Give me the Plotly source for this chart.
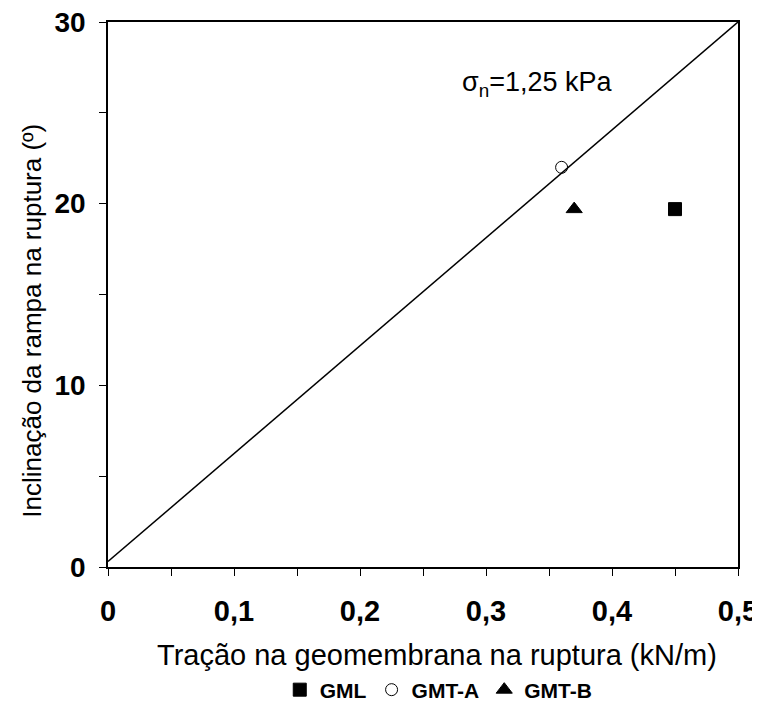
import plotly.graph_objects as go

# Data
series_names = ["GML", "GMT-A", "GMT-B"]
tracao = [0.45, 0.36, 0.37]          # kN/m
inclinacao = [19.7, 22.0, 19.7]      # degrees
line_x = [0.0, 0.5]
line_y = [0.3, 30.0]

x_tickvals = [0, 0.1, 0.2, 0.3, 0.4, 0.5]
x_ticktext = ["0", "0,1", "0,2", "0,3", "0,4", "0,5"]
y_tickvals = [0, 10, 20, 30]
y_ticktext = ["0", "10", "20", "30"]

x_title = "Tração na geomembrana na ruptura (kN/m)"
y_title = "Inclinação da rampa na ruptura (º)"

symbols = ["square", "circle-open", "triangle-up"]
sizes = [13, 12, 14]

FONT = "Liberation Sans, Arial, sans-serif"

fig = go.Figure()

fig.add_trace(go.Scatter(x=line_x, y=line_y, mode="lines",
                         line=dict(color="black", width=1.5),
                         showlegend=False, hoverinfo="skip"))

for name, xv, yv, sym, sz in zip(series_names, tracao, inclinacao, symbols, sizes):
    fig.add_trace(go.Scatter(
        x=[xv], y=[yv], mode="markers", name=name,
        marker=dict(symbol=sym, size=sz, color="black",
                    line=dict(color="black", width=1)),
    ))

fig.add_annotation(x=0.279, y=26.6, xref="x", yref="y",
                   text="σ<sub>n</sub>=1,25 kPa", showarrow=False,
                   xanchor="left", yanchor="middle",
                   font=dict(family=FONT, size=27, color="black"))

# axis titles as annotations for exact placement
fig.add_annotation(x=0.522, y=-0.1615, xref="paper", yref="paper",
                   text=x_title, showarrow=False,
                   xanchor="center", yanchor="middle",
                   font=dict(family=FONT, size=29, color="black"))
fig.add_annotation(x=-0.1206, y=0.452, xref="paper", yref="paper",
                   text=y_title, showarrow=False, textangle=-90,
                   xanchor="center", yanchor="middle",
                   font=dict(family=FONT, size=26, color="black"))

# page body has an 8px margin, so the figure is 8px smaller
fig.update_layout(
    width=752, height=710,
    margin=dict(l=100, r=22, t=14, b=151, autoexpand=False),
    paper_bgcolor="white", plot_bgcolor="white",
    font=dict(family=FONT, color="black"),
    legend=dict(orientation="h", x=0.525, xanchor="center", xref="paper",
                y=-0.2257, yanchor="middle",
                font=dict(family=FONT, size=21, color="black", weight="bold"),
                tracegroupgap=0),
    showlegend=True,
)

fig.update_xaxes(range=[0, 0.5], tickvals=x_tickvals, ticktext=x_ticktext,
                 ticks="outside", ticklen=7, tickcolor="black", tickwidth=1,
                 minor=dict(dtick=0.05, tick0=0, ticks="outside", ticklen=7,
                            tickcolor="black", tickwidth=1, showgrid=False),
                 showline=True, linecolor="black", linewidth=1.5, mirror=True,
                 showgrid=False, zeroline=False, automargin=False,
                 ticklabelstandoff=10, ticklabeloverflow="allow",
                 tickfont=dict(family=FONT, size=29, color="black", weight="bold"))
fig.update_yaxes(range=[0, 30], tickvals=y_tickvals, ticktext=y_ticktext,
                 ticks="outside", ticklen=7, tickcolor="black", tickwidth=1,
                 minor=dict(dtick=5, tick0=0, ticks="outside", ticklen=7,
                            tickcolor="black", tickwidth=1, showgrid=False),
                 showline=True, linecolor="black", linewidth=1.5, mirror=True,
                 showgrid=False, zeroline=False, automargin=False,
                 ticklabelstandoff=8, ticklabeloverflow="allow",
                 tickfont=dict(family=FONT, size=28, color="black", weight="bold"))

fig.write_html("out.html")
